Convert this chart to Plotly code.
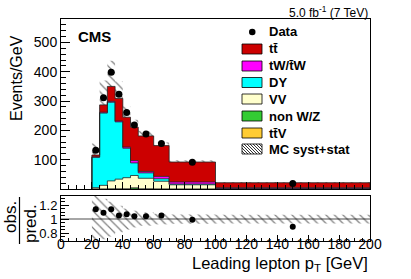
import plotly.graph_objects as go

# ---------------- data ----------------
bin_edges = [20, 25, 30, 35, 40, 45, 50, 60, 70, 100, 200]
data_obs = [132, 311, 398, 323, 261, 218, 188, 155, 91, 19]
data_err = [5, 8, 9, 8, 7, 7, 4, 4, 2, 0.4]

ttV = [0.1, 0.1, 0.1, 0.1, 0.1, 0.1, 0.1, 0.1, 0.1, 0.05]
nonWZ = [0.3, 0.3, 0.5, 0.5, 0.5, 4.0, 0.5, 0.3, 0.2, 0.1]
VV = [4, 12, 27, 33, 38, 42, 36, 26, 14, 1.5]
DY = [103.6, 246.6, 268.4, 195.4, 100.4, 42.9, 18.4, 8.6, 2.7, 1.2]
tW = [2, 3, 3, 3, 4, 8, 5, 8, 7, 1.5]
ttbar = [6, 25, 51, 77, 102, 114, 121, 105, 68, 17]

mc_rel_unc = [0.34, 0.29, 0.25, 0.19, 0.15, 0.12, 0.095, 0.076, 0.067, 0.062]
ratio = [1.14, 1.09, 1.14, 1.05, 1.07, 1.04, 1.04, 1.05, 0.99, 0.89]
ratio_err = [0.04, 0.03, 0.03, 0.03, 0.03, 0.03, 0.02, 0.02, 0.02, 0.02]

components = [
    ("ttV", ttV, "#FFCC33"),
    ("non W/Z", nonWZ, "#33CC33"),
    ("VV", VV, "#FFFFCC"),
    ("DY", DY, "#00FFFF"),
    ("tW", tW, "#FF00FF"),
    ("tt", ttbar, "#CC0000"),
]

# ---------------- geometry helpers ----------------
W, H = 411, 279
ML, MR, MT, MB = 61, 41, 19, 38
PW, PH = W - ML - MR, H - MT - MB


def pxx(p):
    return (p - ML) / PW


def pxy(p):
    return (H - MB - p) / PH


centers = [(bin_edges[i] + bin_edges[i + 1]) / 2 for i in range(len(bin_edges) - 1)]
widths = [bin_edges[i + 1] - bin_edges[i] for i in range(len(bin_edges) - 1)]

fig = go.Figure()

# stacked step histograms
cum = [0.0] * len(centers)
first = True
for name, vals, col in components:
    cum = [c + v for c, v in zip(cum, vals)]
    xs = [bin_edges[0]] + bin_edges[:-1] + [bin_edges[-1], bin_edges[-1]]
    ys = [0] + cum + [cum[-1], 0]
    fig.add_trace(go.Scatter(
        x=xs, y=ys, mode="lines", line=dict(shape="hv", color="#222222", width=0.8),
        fill="tozeroy" if first else "tonexty", fillcolor=col,
        xaxis="x", yaxis="y", showlegend=False, hoverinfo="skip"))
    first = False
total = cum

hatch = dict(shape="\\", fgcolor="black", bgcolor="rgba(0,0,0,0)", size=6, solidity=0.2)

# MC uncertainty band (main)
lo = [t * (1 - r) for t, r in zip(total, mc_rel_unc)]
hi = [t * (1 + r) for t, r in zip(total, mc_rel_unc)]
fig.add_trace(go.Bar(
    x=centers, width=widths, base=lo, y=[h - l for h, l in zip(hi, lo)],
    marker=dict(color="rgba(0,0,0,0)", line=dict(width=0), pattern=hatch),
    xaxis="x", yaxis="y", showlegend=False, hoverinfo="skip"))

# data
fig.add_trace(go.Scatter(
    x=centers, y=data_obs, mode="markers",
    marker=dict(color="black", size=7),
    error_y=dict(type="data", array=data_err, color="black", thickness=1, width=0),
    xaxis="x", yaxis="y", showlegend=False))

# ratio band
fig.add_trace(go.Bar(
    x=centers, width=widths, base=[1 - r for r in mc_rel_unc], y=[2 * r for r in mc_rel_unc],
    marker=dict(color="rgba(0,0,0,0)", line=dict(width=0), pattern=hatch),
    xaxis="x2", yaxis="y2", showlegend=False, hoverinfo="skip"))

fig.add_trace(go.Scatter(
    x=centers, y=ratio, mode="markers",
    marker=dict(color="black", size=6),
    error_y=dict(type="data", array=ratio_err, color="black", thickness=1, width=0),
    xaxis="x2", yaxis="y2", showlegend=False))

font_family = "Liberation Sans, Arial, Helvetica, sans-serif"

x_major = list(range(0, 201, 20))
x_minor = [v for v in range(0, 201, 5) if v % 20]
axis_common = dict(showline=True, mirror=True, linecolor="black", linewidth=1, automargin=False,
                   showgrid=False, zeroline=False, ticks="inside", tickcolor="black")

fig.update_layout(
    width=W, height=H, autosize=False,
    margin=dict(l=ML, r=MR, t=MT, b=MB, pad=0),
    paper_bgcolor="white", plot_bgcolor="white",
    barmode="overlay",
    font=dict(family=font_family, color="black"),
    xaxis=dict(domain=[0, 1], range=[0, 200], anchor="y", showticklabels=False,
               tickmode="array", tickvals=x_major, ticklen=7,
               minor=dict(tickmode="array", tickvals=x_minor, ticklen=4, ticks="inside", tickcolor="black"),
               **axis_common),
    yaxis=dict(domain=[pxy(189), 1], range=[0, 580], anchor="x",
               tickmode="array", tickvals=[100, 200, 300, 400, 500], ticklen=9,
               tickfont=dict(size=14),
               minor=dict(tickmode="array", tickvals=[v for v in range(20, 580, 20) if v % 100],
                          ticklen=5, ticks="inside", tickcolor="black"),
               **axis_common),
    xaxis2=dict(domain=[0, 1], range=[0, 200], anchor="y2",
                tickmode="array", tickvals=x_major, ticklen=6, tickfont=dict(size=14),
                ticklabelstandoff=-10,
                minor=dict(tickmode="array", tickvals=x_minor, ticklen=3, ticks="inside", tickcolor="black"),
                **axis_common),
    yaxis2=dict(domain=[0, pxy(196)], range=[0.686, 1.33], anchor="x2",
                tickmode="array", tickvals=[0.8, 1.0, 1.2], ticktext=["0.8", "1", "1.2"],
                ticklen=8, tickfont=dict(size=13),
                minor=dict(tickmode="array", tickvals=[0.7, 0.75, 0.85, 0.9, 0.95, 1.05, 1.1, 1.15, 1.25, 1.3],
                           ticklen=4, ticks="inside", tickcolor="black"),
                **axis_common),
)

shapes = []
annotations = []

# ratio = 1 reference line
shapes.append(dict(type="line", xref="x2", yref="y2", x0=0, x1=200, y0=1, y1=1,
                   line=dict(color="#888888", width=1.5), layer="below"))

# text
annotations.append(dict(text="<b>CMS</b>", x=pxx(76), y=pxy(36), xref="paper", yref="paper",
                        xanchor="left", yanchor="middle", showarrow=False, font=dict(size=15)))
annotations.append(dict(text="5.0 fb<sup>-1</sup> (7 TeV)", x=pxx(370), y=pxy(12), xref="paper", yref="paper",
                        xanchor="right", yanchor="middle", showarrow=False, font=dict(size=12)))
annotations.append(dict(text="Events/GeV", x=pxx(17), y=pxy(78), xref="paper", yref="paper",
                        xanchor="center", yanchor="middle", textangle=-90, showarrow=False, font=dict(size=16)))
annotations.append(dict(text="Leading lepton p<sub>T</sub> [GeV]", x=pxx(370), y=pxy(264), xref="paper", yref="paper",
                        xanchor="right", yanchor="middle", showarrow=False, font=dict(size=16.5)))
annotations.append(dict(text="obs.", x=pxx(10), y=pxy(217), xref="paper", yref="paper",
                        xanchor="center", yanchor="middle", textangle=-90, showarrow=False, font=dict(size=17)))
annotations.append(dict(text="pred.", x=pxx(30), y=pxy(224), xref="paper", yref="paper",
                        xanchor="center", yanchor="middle", textangle=-90, showarrow=False, font=dict(size=17)))
shapes.append(dict(type="line", xref="paper", yref="paper", x0=pxx(19.5), x1=pxx(19.5),
                   y0=pxy(197), y1=pxy(244), line=dict(color="black", width=1.2)))

# legend
leg_labels = ["Data", "tt\u0304", "tW/t\u0304W", "DY", "VV", "non W/Z", "tt\u0304V", "MC syst+stat"]
leg_colors = [None, "#CC0000", "#FF00FF", "#00FFFF", "#FFFFCC", "#33CC33", "#FFCC33", "hatch"]
leg_y = [32, 49, 66, 82.5, 99, 116, 133, 149]
bx0, bx1 = 242, 262
for lab, col, yy in zip(leg_labels, leg_colors, leg_y):
    annotations.append(dict(text="<b>%s</b>" % lab, x=pxx(267), y=pxy(yy), xref="paper", yref="paper",
                            xanchor="left", yanchor="middle", showarrow=False, font=dict(size=13)))
    if col is None:
        shapes.append(dict(type="circle", xref="paper", yref="paper",
                           x0=pxx(249), x1=pxx(255.5), y0=pxy(yy + 3.25), y1=pxy(yy - 3.25),
                           fillcolor="black", line=dict(width=0)))
    elif col == "hatch":
        top, bot = yy - 5, yy + 5
        h = bot - top
        segs = []
        for k in range(-10, 22, 3):
            t0 = max(0, -k)
            t1 = min(h, (bx1 - bx0) - k)
            if t1 <= t0:
                continue
            segs.append("M %.5f %.5f L %.5f %.5f" % (pxx(bx0 + k + t0), pxy(top + t0),
                                                     pxx(bx0 + k + t1), pxy(top + t1)))
        shapes.append(dict(type="path", xref="paper", yref="paper", path=" ".join(segs),
                           line=dict(color="black", width=0.8)))
        shapes.append(dict(type="rect", xref="paper", yref="paper",
                           x0=pxx(bx0), x1=pxx(bx1), y0=pxy(bot), y1=pxy(top),
                           line=dict(color="black", width=0.8)))
    else:
        shapes.append(dict(type="rect", xref="paper", yref="paper",
                           x0=pxx(bx0), x1=pxx(bx1), y0=pxy(yy + 5), y1=pxy(yy - 5),
                           fillcolor=col, line=dict(color="black", width=0.8)))

fig.update_layout(shapes=shapes, annotations=annotations)

fig.write_html("out.html", config={"displayModeBar": False},
               post_script="document.body.style.margin='0px';")
